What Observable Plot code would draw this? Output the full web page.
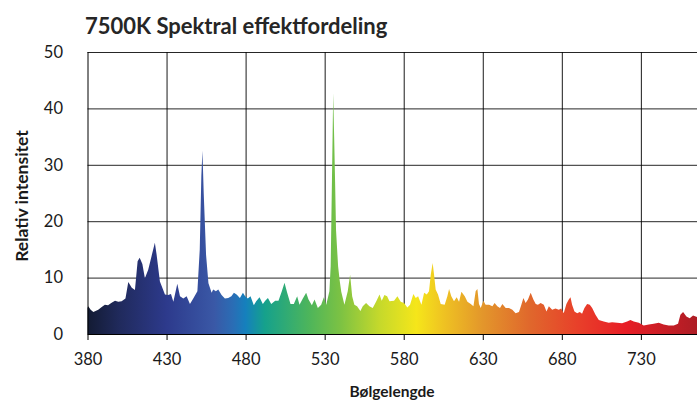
<!DOCTYPE html>
<html>
<head>
<meta charset="utf-8">
<script src="https://cdn.jsdelivr.net/npm/d3@7"></script>
<script src="https://cdn.jsdelivr.net/npm/@observablehq/plot@0.6"></script>
<style>
  html, body { margin: 0; padding: 0; background: #fff; overflow: hidden; }
</style>
</head>
<body>
<div id="chart"></div>
<script>
const titleText = "7500K Spektral effektfordeling";
const yLabel = "Relativ intensitet";
const xLabel = "Bølgelengde";

const xTicks = [380, 430, 480, 530, 580, 630, 680, 730];
const yTicks = [0, 10, 20, 30, 40, 50];

const wavelength = [
  380, 380.5, 382, 383.7, 386.8, 389, 391, 393, 395, 397.4, 399.5, 401.6, 404, 405.8, 408, 410,
  411.7, 413, 414.7, 416.3, 418.4, 420.5, 422.6, 423.7, 425.8, 429, 431, 432.8, 434.3, 436.8,
  438.5, 440.6, 442.7, 444.8, 446.9, 449.5, 451, 452, 452.7, 453.5, 455, 456.5, 458.5, 459.5,
  461.2, 462.7, 464.8, 466.9, 469, 471, 472.6, 474.3, 476.4, 478.3, 479.7, 481.4, 483.1, 485.2,
  486.7, 488.8, 490.9, 492.4, 494.1, 496.2, 498.7, 500.8, 502.9, 504.6, 506.3, 508.4, 510.5,
  512.6, 514.1, 516.2, 518.3, 519.8, 521.9, 523.6, 525.7, 527.8, 529.5, 531, 533, 533.8, 534.6,
  535.4, 536, 536.6, 537.2, 538.5, 539.5, 540.5, 542.5, 544.6, 546.1, 547.4, 548.8, 550.5,
  552.6, 554.1, 556.2, 558.3, 560.4, 562.5, 564.7, 566.1, 567.8, 569.5, 571, 573.9, 576, 578.1,
  580.2, 582.3, 584, 586.1, 587.6, 589.1, 591.2, 592.9, 594.6, 596, 597.1, 598.3, 599.2, 600.2,
  601.7, 603.4, 605.9, 607.6, 608.7, 610.1, 611.8, 613.5, 615, 616.5, 618.6, 620.3, 622.4,
  624.1, 625.5, 626.6, 627.6, 628.7, 630.4, 631.8, 634, 636.1, 637.5, 639.2, 640.9, 642.4,
  644.5, 646.6, 648.7, 650.8, 652.9, 654.4, 655.7, 657.1, 658.6, 660.3, 662, 663.5, 664.9,
  666.6, 668.6, 670.3, 671.8, 673.9, 676, 678.1, 679.6, 681.2, 682.9, 684.4, 685.5, 686.5, 688,
  689.7, 691.4, 692.8, 694.3, 696, 697.7, 699.2, 701.3, 703.4, 706.5, 709.7, 711.8, 715, 718.1,
  721.3, 723.4, 725.5, 728.7, 731.8, 735, 738.1, 741.3, 744.4, 747.6, 750.8, 753.5, 755, 756.7,
  758.8, 760.9, 763, 765.5
];
const intensity = [
  4.6, 4.9, 4.3, 3.9, 4.3, 4.8, 5.2, 5.1, 5.5, 5.9, 5.7, 5.8, 6.3, 9.2, 8.2, 7.8,
  12.9, 13.5, 12.4, 9.9, 11.4, 13.8, 16.2, 14.1, 9.3, 7.0, 6.9, 7.1, 5.7, 8.9,
  6.7, 6.3, 6.7, 5.3, 6.3, 7.6, 15, 28, 32.5, 25, 14, 9, 7.3, 7.9,
  7.6, 7.9, 6.9, 6.3, 6.4, 6.7, 7.3, 7.0, 6.4, 7.3, 6.7, 6.3, 6.7, 5.1,
  5.8, 6.5, 5.3, 5.9, 6.4, 5.3, 5.9, 5.9, 7.6, 9.1, 7.3, 5.3, 5.3,
  6.7, 5.2, 6.3, 7.3, 6.1, 5.1, 6.1, 4.6, 5.2, 6.5, 5.2, 7.6, 12, 27,
  42.7, 35, 27, 18.4, 12, 9.5, 7.5, 5.2, 7.6, 10.5, 6.7, 5.2, 4.9,
  4.1, 4.9, 5.5, 4.9, 4.6, 5.7, 7.0, 5.9, 6.9, 6.7, 5.8, 5.9, 6.7, 5.7,
  5.5, 4.7, 5.2, 7.1, 6.4, 6.7, 5.2, 7.3, 7.0, 7.6, 10.5, 12.6, 10.5, 7.9,
  7.0, 5.3, 5.2, 6.7, 8.0, 6.7, 5.8, 6.5, 5.7, 7.5, 6.7, 5.7, 5.3,
  4.9, 7.6, 8.0, 5.3, 4.6, 5.9, 5.2, 5.2, 4.9, 5.5, 4.9, 4.6, 5.3,
  4.6, 4.6, 4.3, 3.7, 3.9, 5.2, 6.4, 5.5, 6.1, 7.3, 6.1, 5.3, 5.2,
  5.5, 5.2, 4.0, 4.9, 4.3, 4.5, 4.3, 4.5, 3.7, 5.3, 6.1, 6.5, 5.2, 4.0,
  3.7, 3.9, 3.6, 4.6, 5.3, 5.2, 4.6, 3.4, 2.5, 2.2, 2.0, 2.1, 2.0, 1.9,
  2.2, 2.5, 2.2, 2.0, 1.5, 1.7, 1.8, 2.0, 1.7, 1.5, 1.5, 1.8, 3.4, 3.9,
  3.1, 2.8, 3.3, 3.0
];

// spectrum gradient stops (wavelength -> colour)
const stopWavelength = [380, 400, 430, 460, 472, 480, 492, 520, 540, 565, 588, 605, 630, 660, 690, 720, 766];
const stopColor = ["#131b33", "#202a5c", "#2d3a8c", "#3a58a6", "#2a6db5", "#1580bd", "#15a18c", "#4db55b", "#7cc243", "#c6d92b", "#f5e61a", "#efc322", "#e3962b", "#e0672c", "#e8402a", "#e81e26", "#ad1d25"];

const data = wavelength.map((w, i) => ({ w, v: intensity[i] }));
const xDomain = [380, 765.5];

const chart = Plot.plot({
  width: 697,
  height: 401,
  marginTop: 52,
  marginBottom: 67,
  marginLeft: 87.5,
  marginRight: 0,
  style: { fontFamily: "Lato, 'Open Sans', sans-serif", fontSize: "16px", color: "#1a1a1a", background: "#fff" },
  x: { domain: xDomain },
  y: { domain: [0, 50] },
  marks: [
    Plot.gridX(xTicks.slice(1), { stroke: "#000", strokeOpacity: 0.9, strokeWidth: 1 }),
    Plot.gridY(yTicks.slice(1), { stroke: "#000", strokeOpacity: 0.85, strokeWidth: 1 }),
    Plot.areaY(data, { x: "w", y: "v", fill: "url(#spec)" }),
    Plot.ruleX([380], { stroke: "#000" }),
    Plot.ruleY([0], { stroke: "#000" }),
    Plot.axisX(xTicks, { tickSize: 6, tickPadding: 13, label: null, fontSize: 16.5, stroke: "#000" }),
    Plot.axisY(yTicks, { tickSize: 0, tickPadding: 25, label: null, fontSize: 16.5 })
  ]
});

const x = chart.scale("x");
const svg = d3.select(chart);
const grad = svg.insert("defs", ":first-child")
  .append("linearGradient")
  .attr("id", "spec")
  .attr("gradientUnits", "userSpaceOnUse")
  .attr("x1", x.apply(xDomain[0])).attr("x2", x.apply(xDomain[1]))
  .attr("y1", 0).attr("y2", 0);
stopWavelength.forEach((w, i) => {
  grad.append("stop")
    .attr("offset", Math.max(0, Math.min(1, (w - xDomain[0]) / (xDomain[1] - xDomain[0]))))
    .attr("stop-color", stopColor[i]);
});

svg.append("text")
  .attr("x", 85).attr("y", 34)
  .attr("text-anchor", "start")
  .attr("font-family", "Lato, sans-serif").attr("font-weight", 700).attr("font-size", 22)
  .attr("fill", "#262626")
  .text(titleText);

svg.append("text")
  .attr("transform", "translate(28,196) rotate(-90)")
  .attr("text-anchor", "middle")
  .attr("font-family", "Lato, sans-serif").attr("font-weight", 700).attr("font-size", 17.5)
  .attr("fill", "#1a1a1a")
  .text(yLabel);

svg.append("text")
  .attr("x", 392).attr("y", 397)
  .attr("text-anchor", "middle")
  .attr("font-family", "Lato, sans-serif").attr("font-weight", 700).attr("font-size", 15.5)
  .attr("fill", "#1a1a1a")
  .text(xLabel);

document.getElementById("chart").appendChild(chart);
</script>
</body>
</html>
